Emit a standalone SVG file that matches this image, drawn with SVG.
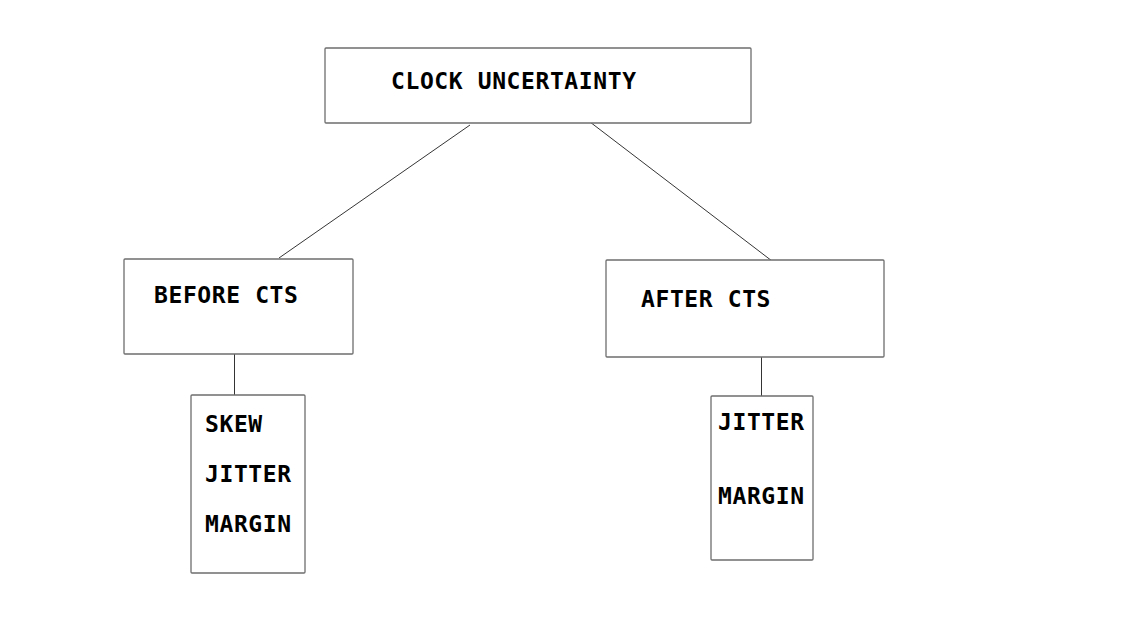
<svg xmlns="http://www.w3.org/2000/svg" width="1126" height="624" viewBox="0 0 1126 624">
<style>
.box{fill:#fff;stroke:#6e6e6e;stroke-width:1.3}
.t{font-family:"DejaVu Sans Mono","Liberation Mono",monospace;font-weight:bold;font-size:23px;letter-spacing:0.6px;fill:#000}
.c{stroke:#000;stroke-width:0.8;fill:none}
</style>
<rect width="1126" height="624" fill="#fff"/>
<g id="connectors">
<line class="c" x1="470" y1="125" x2="279" y2="258"/>
<line class="c" x1="590" y1="122" x2="772" y2="261"/>
<line class="c" x1="234.5" y1="354" x2="234.5" y2="395"/>
<line class="c" x1="761.5" y1="357" x2="761.5" y2="396"/>
</g>
<g id="clock-uncertainty">
<rect class="box" x="325" y="48" width="426" height="75" rx="1"/>
<text class="t" x="391" y="89">CLOCK UNCERTAINTY</text>
</g>
<g id="before-cts">
<rect class="box" x="124" y="259" width="229" height="95" rx="1"/>
<text class="t" x="154" y="303">BEFORE CTS</text>
</g>
<g id="after-cts">
<rect class="box" x="606" y="260" width="278" height="97" rx="1"/>
<text class="t" x="641" y="307">AFTER CTS</text>
</g>
<g id="before-list">
<rect class="box" x="191" y="395" width="114" height="178" rx="1"/>
<text class="t" x="205" y="432">SKEW</text>
<text class="t" x="205" y="482">JITTER</text>
<text class="t" x="205" y="532">MARGIN</text>
</g>
<g id="after-list">
<rect class="box" x="711" y="396" width="102" height="164" rx="1"/>
<text class="t" x="718" y="430">JITTER</text>
<text class="t" x="718" y="504">MARGIN</text>
</g>
</svg>
